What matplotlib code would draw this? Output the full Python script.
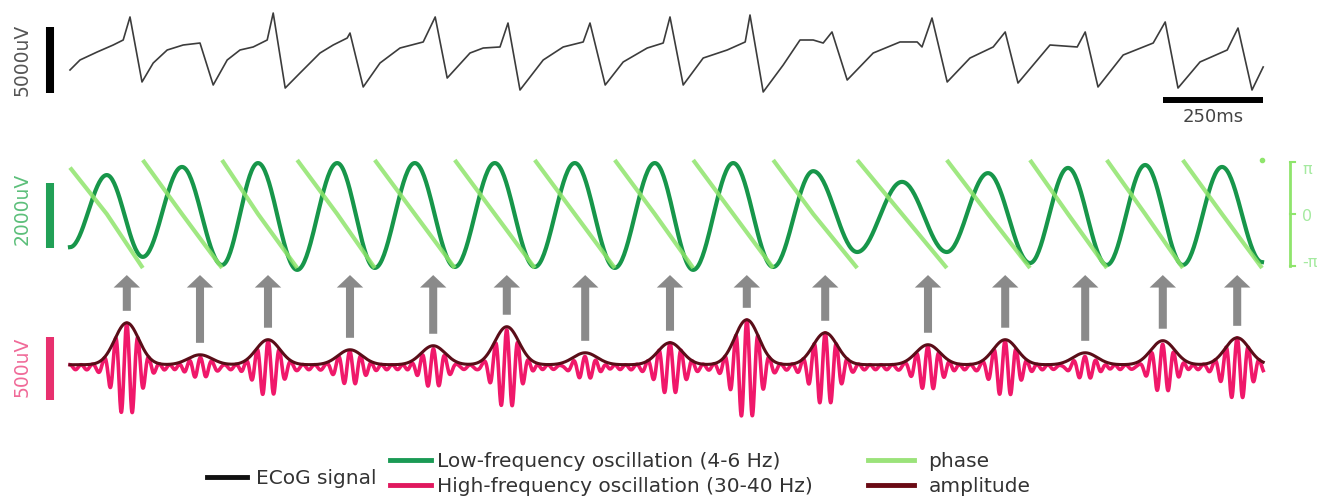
import numpy as np
import matplotlib
# Use a non-interactive backend, no display in the sandbox
matplotlib.use('Agg')
import matplotlib.pyplot as plt
from matplotlib.lines import Line2D

plt.rcParams['font.family'] = ['DejaVu Sans']

# ECoG trace vertices (time in ms, amplitude in uV)
ecog_t = [0, 25, 68, 108, 133, 150, 180, 208, 243, 283, 325, 358, 393, 425, 458, 493,
          508, 538, 575, 625, 658, 693, 700, 733, 775, 825, 883, 913, 943, 1000, 1033,
          1075, 1095, 1125, 1183, 1233, 1283, 1300, 1338, 1383, 1443, 1483, 1500, 1533,
          1583, 1643, 1688, 1700, 1733, 1783, 1825, 1858, 1883, 1905, 1943, 2008, 2075,
          2118, 2130, 2155, 2193, 2250, 2308, 2338, 2370, 2450, 2518, 2538, 2570, 2633,
          2708, 2738, 2770, 2825, 2893, 2920, 2955, 2983]
ecog_uv = [-1140, -380, 230, 760, 1140, 2890, -2050, -610, 380, 760, 910, -2280, -380,
           380, 610, 1140, 3190, -2510, -1370, 150, 760, 1290, 1670, -2430, -610, 530,
           990, 2890, -1750, 150, 530, 610, 2430, -2660, -380, 610, 990, 2430, -2280,
           -530, 530, 910, 2890, -2280, -230, 380, 990, 3040, -2810, -760, 1140, 1140,
           910, 1750, -1900, 150, 990, 990, 610, 2810, -2050, -230, 610, 1750, -2130,
           760, 610, 1750, -2430, 0, 910, 2510, -2510, -530, 380, 2050, -2660, -910]

# Low-frequency oscillation extrema (ms, uV): start, then peak / trough alternating
lfo_t = [0, 92, 182, 280, 380, 470, 568, 668, 762, 862, 962, 1062, 1162, 1262, 1362,
         1462, 1558, 1658, 1758, 1858, 1968, 2080, 2192, 2295, 2400, 2495, 2592, 2688,
         2782, 2880, 2980]
lfo_uv = [-990, 1230, -1290, 1480, -1540, 1600, -1690, 1600, -1630, 1600, -1600, 1600,
          -1600, 1600, -1630, 1600, -1690, 1600, -1600, 1350, -1140, 1020, -1140, 1290,
          -1480, 1450, -1540, 1540, -1540, 1480, -1450]
phase_start = 2.7  # rad at t = 0

# High-frequency bursts: centre (ms) and envelope peak (uV)
burst_t = [142, 325, 495, 700, 908, 1092, 1288, 1500, 1692, 1888, 2145, 2338, 2538, 2732, 2918]
burst_amp = [333, 79, 199, 119, 151, 302, 95, 175, 357, 254, 159, 199, 95, 191, 214]
hfo_freq = 36.0     # Hz
hfo_base = 18.0     # uV
burst_sigma = 30.0  # ms

c_ecog = '#3c3c3c'
c_lfo = '#17964a'
c_phase = '#8fe56c'
c_hfo = '#f0186a'
c_env = '#5a0d18'
c_arrow = '#8a8a8a'

fig = plt.figure(figsize=(13.19, 4.97), dpi=100)
xlim = (-175, 3122.5)

# ---- ECoG panel
ax1 = fig.add_axes([0, 0.7485, 1, 0.2515])
ax1.set_xlim(xlim)
ax1.set_ylim(-5320, 4180)
ax1.axis('off')
ax1.plot(ecog_t, ecog_uv, color=c_ecog, lw=1.2, solid_joinstyle='round')
ax1.plot([-50, -50], [-2890, 2110], color='black', lw=5.8, solid_capstyle='butt')
ax1.text(-120, -380, '5000uV', rotation=90, ha='center', va='center',
         fontsize=13.5, color='#555555')
ax1.plot([2733, 2983], [-3420, -3420], color='black', lw=4.3, solid_capstyle='butt')
ax1.text(2858, -4710, '250ms', ha='center', va='center', fontsize=13, color='#444444')

# ---- Low-frequency panel + phase
ax2 = fig.add_axes([0, 0.4165, 1, 0.3018])
ax2.set_xlim(xlim)
ax2.set_ylim(-2310, 2310)
ax2.axis('off')
ax2p = ax2.twinx()
ax2p.set_xlim(xlim)
ax2p.set_ylim(-4.42, 4.305)
ax2p.axis('off')

# phase sawtooth: pi at troughs, 0 at peaks, -pi at next trough
ax2p.plot(lfo_t[0:3], [phase_start, 0, -np.pi], color=c_phase, lw=3.0,
          solid_capstyle='butt', alpha=0.85)
for k in range(2, len(lfo_t) - 2, 2):
    ax2p.plot(lfo_t[k:k + 3], [np.pi, 0, -np.pi], color=c_phase, lw=3.0,
              solid_capstyle='butt', alpha=0.85)
ax2p.plot([lfo_t[-1]], [np.pi], 'o', color=c_phase, ms=3)

# smooth curve through the extrema (half-cosine between neighbours)
xs, ys = [], []
for i in range(len(lfo_t) - 1):
    s = np.linspace(0, 1, 40)
    xs.append(lfo_t[i] + (lfo_t[i + 1] - lfo_t[i]) * s)
    ys.append(lfo_uv[i] + (lfo_uv[i + 1] - lfo_uv[i]) * (1 - np.cos(np.pi * s)) / 2)
ax2.plot(np.concatenate(xs), np.concatenate(ys), color=c_lfo, lw=3.0, zorder=3)
ax2.plot([-50, -50], [-1010, 990], color='#21a056', lw=5.8, solid_capstyle='butt')
ax2.text(-120, 185, '2000uV', rotation=90, ha='center', va='center',
         fontsize=13.5, color='#5cbf7a')

# phase axis on the right
ax2p.plot([3050, 3050], [-3.0, 3.0], color=c_phase, lw=2)
for v in [-3.0, 0, 3.0]:
    ax2p.plot([3050, 3063], [v, v], color=c_phase, lw=1.5)
for v, lab in [(2.6, 'π'), (-0.15, '0'), (-2.8, '-π')]:
    ax2p.text(3080, v, lab, ha='left', va='center', fontsize=11.5, color='#a5eaa0')

# ---- High-frequency panel
ax3 = fig.add_axes([0, 0.1348, 1, 0.3219])
ax3.set_xlim(xlim)
ax3.set_ylim(-500, 770)
ax3.axis('off')

t = np.arange(0, 2983.5, 0.5)
env = np.full_like(t, hfo_base)
hfo = hfo_base * np.cos(2 * np.pi * hfo_freq * t / 1000)
for tc, a in zip(burst_t, burst_amp):
    g = a * np.exp(-0.5 * ((t - tc) / burst_sigma) ** 2)
    env += g
    hfo += g * np.cos(2 * np.pi * hfo_freq * (t - tc) / 1000)
hfo = np.where(hfo < 0, hfo * 1.15, hfo)
ax3.plot(t, hfo, color=c_hfo, lw=2.6)
ax3.plot(t, env, color=c_env, lw=2.2)
ax3.plot([-50, -50], [-262, 238], color='#e8306e', lw=5.8, solid_capstyle='butt')
ax3.text(-120, 0, '500uV', rotation=90, ha='center', va='center',
         fontsize=13.5, color='#f06a98')

# arrows from the phase down to each amplitude burst
for tc, a in zip(burst_t, burst_amp):
    ax3.annotate('', xy=(tc, 730), xytext=(tc, a + hfo_base + 95),
                 arrowprops=dict(arrowstyle='simple,head_length=9,head_width=19,tail_width=5.8',
                                 mutation_scale=1, color=c_arrow, lw=0,
                                 shrinkA=0, shrinkB=0))

# ---- legend
leg_kw = dict(loc='center left', frameon=False, fontsize=14.5, borderpad=0,
              borderaxespad=0, labelcolor='#333333')
fig.legend([Line2D([], [], color='#111111', lw=3.5)], ['ECoG signal'],
           bbox_to_anchor=(0.157, 0.038), handlelength=2.0, handletextpad=0.45, **leg_kw)
fig.legend([Line2D([], [], color='#1a9a55', lw=3.5), Line2D([], [], color='#e0185e', lw=3.5)],
           ['Low-frequency oscillation (4-6 Hz)', 'High-frequency oscillation (30-40 Hz)'],
           bbox_to_anchor=(0.296, 0.046), handlelength=2.0, handletextpad=0.3,
           labelspacing=0.28, **leg_kw)
fig.legend([Line2D([], [], color='#9be37a', lw=3.5), Line2D([], [], color='#6a0a14', lw=3.5)],
           ['phase', 'amplitude'],
           bbox_to_anchor=(0.658, 0.046), handlelength=2.3, handletextpad=0.7,
           labelspacing=0.28, **leg_kw)

fig.savefig('out.png', dpi=100)
